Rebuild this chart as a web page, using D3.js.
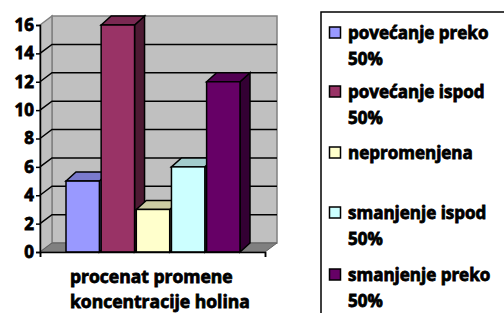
<!DOCTYPE html>
<html>
<head>
<meta charset="utf-8">
<script src="https://cdn.jsdelivr.net/npm/d3@7"></script>
<style>
body { margin: 0; background: #fff; }
svg text { font-family: "Open Sans", sans-serif; font-weight: bold; fill: #000; stroke: #000; stroke-width: 0.8px; }
</style>
</head>
<body>
<div id="chart"></div>
<script>
var seriesNames = ["povećanje preko 50%", "povećanje ispod 50%", "nepromenjena", "smanjenje ispod 50%", "smanjenje preko 50%"]
var seriesValues = [5, 16, 3, 6, 12]
var seriesColors = ["#9999FF", "#993366", "#FFFFCC", "#CCFFFF", "#660066"]
var yTicks = [0, 2, 4, 6, 8, 10, 12, 14, 16]
var categoryLabel = ["procenat promene", "koncentracije holina"]
// legend lines, wrapped like the original
var legendLines = [["povećanje preko", "50%"], ["povećanje ispod", "50%"], ["nepromenjena"], ["smanjenje ispod", "50%"], ["smanjenje preko", "50%"]]

var svg = d3.select("#chart").append("svg")
  .attr("width", 504).attr("height", 313)

var x0 = 40, x1 = 265
var dx = 12, dy = -9     // wall depth
var bdx = 10, bdy = -9   // bar depth

var y = d3.scaleLinear().domain([0, 16]).range([252, 25])
var x = d3.scaleBand().domain(seriesNames).range([66, 240]).paddingInner(0.05)

// back wall
svg.append("rect")
  .attr("x", x0 + dx).attr("y", y(16) + dy)
  .attr("width", x1 - x0).attr("height", y(0) - y(16))
  .attr("fill", "#C0C0C0").attr("stroke", "#808080").attr("stroke-width", 1.5)

// side wall
svg.append("path")
  .attr("d", "M" + x0 + "," + y(0) + "L" + x0 + "," + y(16) + "L" + (x0 + dx) + "," + (y(16) + dy) + "L" + (x0 + dx) + "," + (y(0) + dy) + "Z")
  .attr("fill", "#C0C0C0").attr("stroke", "#808080").attr("stroke-width", 1.5)

// floor
svg.append("path")
  .attr("d", "M" + x0 + "," + y(0) + "L" + x1 + "," + y(0) + "L" + (x1 + dx) + "," + (y(0) + dy) + "L" + (x0 + dx) + "," + (y(0) + dy) + "Z")
  .attr("fill", "#808080").attr("stroke", "#606060").attr("stroke-width", 1)

// gridlines on walls
var grid = svg.append("g")
grid.selectAll("path").data(yTicks.slice(1, -1)).enter().append("path")
  .attr("d", function(d) {
    return "M" + x0 + "," + y(d) + "L" + (x0 + dx) + "," + (y(d) + dy) + "L" + (x1 + dx) + "," + (y(d) + dy)
  })
  .attr("fill", "none").attr("stroke", "#000").attr("stroke-width", 1.5)

// bars
var bars = svg.append("g").selectAll("g").data(seriesValues).enter().append("g")
bars.each(function(v, i) {
  var g = d3.select(this)
  var c = d3.color(seriesColors[i])
  var bx = x(seriesNames[i]), bw = x.bandwidth()
  var top = y(v), bot = y(0)
  // side
  g.append("path")
    .attr("d", "M" + (bx + bw) + "," + bot + "L" + (bx + bw) + "," + top + "L" + (bx + bw + bdx) + "," + (top + bdy) + "L" + (bx + bw + bdx) + "," + (bot + bdy) + "Z")
    .attr("fill", d3.rgb(c.r * 0.5, c.g * 0.5, c.b * 0.5)).attr("stroke", "#000").attr("stroke-width", 1.5)
  // top
  g.append("path")
    .attr("d", "M" + bx + "," + top + "L" + (bx + bdx) + "," + (top + bdy) + "L" + (bx + bw + bdx) + "," + (top + bdy) + "L" + (bx + bw) + "," + top + "Z")
    .attr("fill", d3.rgb(c.r * 0.8, c.g * 0.8, c.b * 0.8)).attr("stroke", "#000").attr("stroke-width", 1.5)
  // front
  g.append("rect")
    .attr("x", bx).attr("y", top).attr("width", bw).attr("height", bot - top)
    .attr("fill", seriesColors[i]).attr("stroke", "#000").attr("stroke-width", 1.5)
})

// y axis
var yAxis = svg.append("g")
  .attr("transform", "translate(" + x0 + ",0)")
  .call(d3.axisLeft(y).tickValues(yTicks).tickSize(4).tickPadding(2))
yAxis.select(".domain").attr("stroke", "#000").attr("stroke-width", 1.5)
yAxis.selectAll(".tick line").attr("stroke", "#000").attr("stroke-width", 1.5)
yAxis.selectAll("text").attr("font-size", 17).attr("font-family", null).attr("fill", "#000")

// x axis line
var xs = d3.scaleLinear().domain([0, 1]).range([x0, x1])
var xAxis = svg.append("g")
  .attr("transform", "translate(0," + y(0) + ")")
  .call(d3.axisBottom(xs).tickValues([0, 1]).tickSize(5).tickFormat(""))
xAxis.select(".domain").attr("stroke", "#000").attr("stroke-width", 1.5)
xAxis.selectAll(".tick line").attr("stroke", "#000").attr("stroke-width", 1.5)

// category label
svg.append("g").selectAll("text").data(categoryLabel).enter().append("text")
  .attr("x", 70).attr("y", function(d, i) { return 283 + i * 25 })
  .attr("font-size", 17.5)
  .text(function(d) { return d })

// legend
var lg = svg.append("g")
lg.append("rect")
  .attr("x", 321).attr("y", 12).attr("width", 200).attr("height", 320)
  .attr("fill", "#fff").attr("stroke", "#000").attr("stroke-width", 1.5)
var legendY = [33, 92, 153, 213, 275]
var items = lg.selectAll("g.item").data(seriesNames).enter().append("g")
  .attr("transform", function(d, i) { return "translate(329," + legendY[i] + ")" })
items.each(function(d, i) {
  var g = d3.select(this)
  g.append("rect").attr("x", 0.5).attr("y", -6).attr("width", 11).attr("height", 11)
    .attr("fill", seriesColors[i]).attr("stroke", "#000").attr("stroke-width", 1.5)
  g.selectAll("text").data(legendLines[i]).enter().append("text")
    .attr("x", 19).attr("y", function(t, j) { return 6 + j * 26 })
    .attr("font-size", 17)
    .text(function(t) { return t })
})
</script>
</body>
</html>
